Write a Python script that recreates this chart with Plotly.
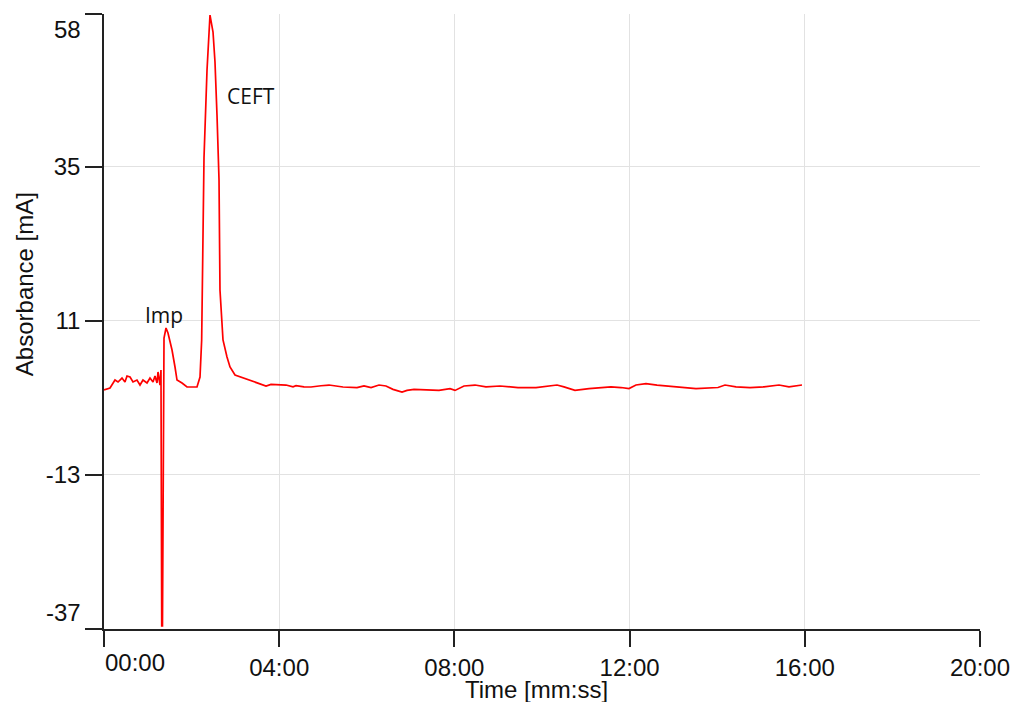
import plotly.graph_objects as go

# ---- data (time in minutes, absorbance in mA) ----
time_min = [0.000, 0.137, 0.251, 0.320, 0.411, 0.479, 0.525, 0.594, 0.662, 0.753,
            0.822, 0.890, 0.982, 1.050, 1.119, 1.164, 1.210, 1.233, 1.279, 1.301,
            1.318, 1.335, 1.370, 1.416, 1.461, 1.553, 1.621, 1.667, 1.781, 1.895,
            2.123, 2.192, 2.230, 2.245, 2.283, 2.352, 2.397, 2.420, 2.489, 2.534,
            2.580, 2.626, 2.648, 2.717, 2.808, 2.877, 2.991, 3.174, 3.402, 3.539,
            3.699, 3.813, 4.155, 4.315, 4.384, 4.566, 4.726, 4.954, 5.137, 5.457,
            5.776, 5.936, 6.096, 6.279, 6.438, 6.598, 6.804, 6.918, 7.078, 7.648,
            7.900, 8.014, 8.219, 8.470, 8.721, 9.041, 9.452, 9.863, 10.183, 10.342,
            10.502, 10.753, 11.073, 11.416, 11.575, 11.804, 11.986, 12.146, 12.374, 12.626,
            12.877, 13.128, 13.516, 14.018, 14.178, 14.429, 14.749, 15.068, 15.411, 15.639,
            15.936]
absorbance = [0.25, 0.56, 1.80, 1.49, 2.11, 1.49, 2.43, 2.27, 1.49, 1.80,
              1.02, 1.80, 1.34, 2.11, 1.49, 2.43, 1.34, 3.05, 1.02, 3.36,
              -36.5, -36.5, 8.35, 9.91, 9.13, 6.48, 3.83, 1.80, 1.34, 0.71,
              0.71, 2.27, 8.04, 15.83, 36.40, 50.11, 56.81, 58.68, 56.03, 51.36,
              43.10, 32.97, 15.83, 8.04, 5.39, 3.83, 2.58, 2.11, 1.60, 1.20,
              0.87, 1.13, 1.02, 0.74, 0.91, 0.74, 0.71, 0.91, 1.02, 0.71,
              0.63, 0.87, 0.63, 1.02, 0.87, 0.35, -0.07, 0.18, 0.35, 0.18,
              0.46, 0.18, 0.87, 1.02, 0.74, 0.87, 0.63, 0.63, 0.91, 1.02,
              0.74, 0.18, 0.46, 0.63, 0.74, 0.63, 0.46, 1.02, 1.24, 1.02,
              0.87, 0.63, 0.46, 0.63, 1.02, 0.74, 0.63, 0.74, 1.02, 0.74,
              1.02]

x_tick_vals = [0, 4, 8, 12, 16, 20]
x_tick_text = ["00:00", "04:00", "08:00", "12:00", "16:00", "20:00"]
y_tick_vals = [-37, -13, 11, 35, 58.84]
y_tick_text = ["-37", "-13", "11", "35", "58"]

peak_labels = ["Imp", "CEFT"]
peak_label_x = [1.37, 3.356]
peak_label_y = [11.9, 46.1]

x_title = "Time [mm:ss]"
y_title = "Absorbance [mA]"

# ---- figure ----
TICK_FONT = dict(family="Liberation Sans, Arial, sans-serif", size=24, color="#111111")
AXIS_COLOR = "#222222"
GRID_COLOR = "#e2e2e2"

fig = go.Figure()
fig.add_trace(go.Scatter(x=time_min, y=absorbance, mode="lines",
                         line=dict(color="#ff0000", width=1.7), hoverinfo="skip",
                         showlegend=False))

x_ticktext_axis = [""] + x_tick_text[1:]
y_ticktext_axis = [""] + y_tick_text[1:-1] + [""]

fig.update_xaxes(range=[x_tick_vals[0], x_tick_vals[-1]], tickmode="array",
                 tickvals=x_tick_vals, ticktext=x_ticktext_axis,
                 showline=True, linecolor=AXIS_COLOR, linewidth=1.5,
                 ticks="outside", ticklen=16, tickwidth=1.5, tickcolor=AXIS_COLOR,
                 showgrid=True, gridcolor=GRID_COLOR, gridwidth=1,
                 zeroline=False, tickfont=TICK_FONT, automargin=False)
fig.update_yaxes(range=[y_tick_vals[0], y_tick_vals[-1]], tickmode="array",
                 tickvals=y_tick_vals, ticktext=y_ticktext_axis,
                 showline=True, linecolor=AXIS_COLOR, linewidth=1.5,
                 ticks="outside", ticklen=17, tickwidth=1.5, tickcolor=AXIS_COLOR,
                 showgrid=True, gridcolor=GRID_COLOR, gridwidth=1,
                 zeroline=False, tickfont=TICK_FONT, automargin=False)

annotations = []
# end tick labels shifted inward
annotations.append(dict(x=x_tick_vals[0], y=0, xref="x", yref="paper",
                        text=x_tick_text[0], showarrow=False, xanchor="left",
                        yanchor="top", yshift=-18, xshift=-1, font=TICK_FONT))
annotations.append(dict(x=0, y=y_tick_vals[-1], xref="paper", yref="y",
                        text=y_tick_text[-1], showarrow=False, xanchor="right",
                        yanchor="middle", xshift=-21, yshift=-15, font=TICK_FONT))
annotations.append(dict(x=0, y=y_tick_vals[0], xref="paper", yref="y",
                        text=y_tick_text[0], showarrow=False, xanchor="right",
                        yanchor="middle", xshift=-21, yshift=17, font=TICK_FONT))
# axis titles
annotations.append(dict(x=-0.09, y=0.561, xref="paper", yref="paper",
                        text=y_title, textangle=-90, showarrow=False,
                        xanchor="center", yanchor="middle", font=TICK_FONT))
annotations.append(dict(x=0.494, y=-0.0976, xref="paper", yref="paper",
                        text=x_title, showarrow=False,
                        xanchor="center", yanchor="middle", font=TICK_FONT))
# peak labels
for txt, px, py in zip(peak_labels, peak_label_x, peak_label_y):
    annotations.append(dict(x=px, y=py, xref="x", yref="y", text=txt,
                            showarrow=False, xanchor="center", yanchor="middle",
                            font=dict(family="Open Sans, Noto Sans, sans-serif",
                                      size=21, color="#111111")))

fig.update_layout(width=1015, height=702,
                  margin=dict(l=104, r=35, t=14, b=73),
                  paper_bgcolor="white", plot_bgcolor="white",
                  annotations=annotations)

fig.write_html("out.html", config={"displayModeBar": False},
               post_script="document.body.style.margin='0px';document.body.style.overflow='hidden';")
